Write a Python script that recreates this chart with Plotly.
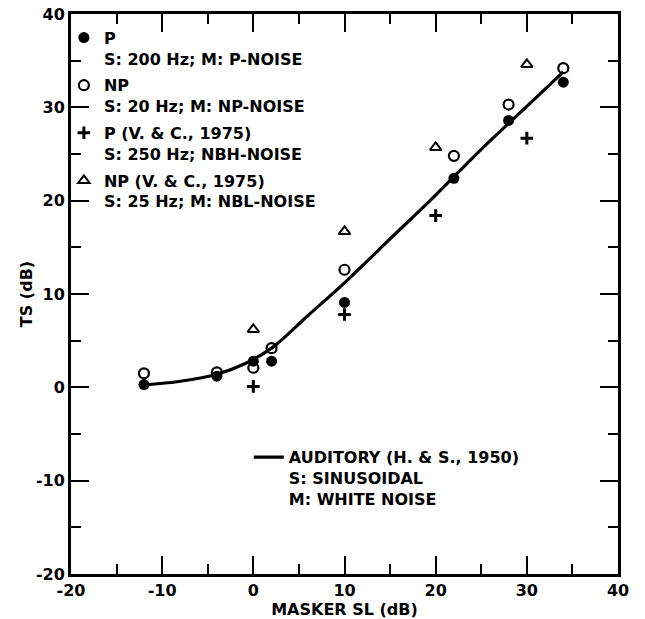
import plotly.graph_objects as go

# Masker sensation level (dB) and threshold shift (dB) for each condition
p_sl = [-12, -4, 0, 2, 10, 22, 28, 34]
p_ts = [0.3, 1.2, 2.8, 2.8, 9.1, 22.4, 28.6, 32.7]

np_sl = [-12, -4, 0, 2, 10, 22, 28, 34]
np_ts = [1.5, 1.6, 2.1, 4.2, 12.6, 24.8, 30.3, 34.2]

p_vc_sl = [0, 10, 20, 30]
p_vc_ts = [0.1, 7.8, 18.4, 26.7]

np_vc_sl = [0, 10, 20, 30]
np_vc_ts = [6.2, 16.7, 25.7, 34.6]

# Auditory masking curve (Hawkins & Stevens, 1950)
aud_sl = [-12, -8, -4, -1, 2, 6, 10, 15, 20, 25, 30, 34]
aud_ts = [0.25, 0.65, 1.4, 2.5, 4.2, 7.7, 11.2, 15.9, 20.6, 25.5, 30.1, 33.8]

# Axis ticks (shared by both axes)
tick_vals = [-20, -10, 0, 10, 20, 30, 40]
tick_text = ["-20", "-10", "0", "10", "20", "30", "40"]

FONT = "DejaVu Sans"
INK = "black"

fig = go.Figure()

fig.add_trace(go.Scatter(
    x=aud_sl, y=aud_ts, mode="lines",
    line=dict(color=INK, width=3.2, shape="spline", smoothing=1.0),
    name="AUDITORY (H. & S., 1950)<br>S: SINUSOIDAL<br>M: WHITE NOISE",
    legend="legend2",
))

fig.add_trace(go.Scatter(
    x=np_sl, y=np_ts, mode="markers",
    marker=dict(symbol="circle-open", size=10, color=INK, line=dict(width=2.2)),
    name="NP<br>S: 20 Hz; M: NP-NOISE", legendrank=2, legendgroup="b",
))
fig.add_trace(go.Scatter(
    x=p_sl, y=p_ts, mode="markers",
    marker=dict(symbol="circle", size=11, color=INK),
    name="P<br>S: 200 Hz; M: P-NOISE", legendrank=1, legendgroup="a",
))
fig.add_trace(go.Scatter(
    x=p_vc_sl, y=p_vc_ts, mode="markers",
    marker=dict(symbol="cross-thin", size=9, color=INK, line=dict(width=3, color=INK)),
    name="P (V. & C., 1975)<br>S: 250 Hz; NBH-NOISE", legendrank=3, legendgroup="c",
))
fig.add_trace(go.Scatter(
    x=np_vc_sl, y=np_vc_ts, mode="markers",
    marker=dict(symbol="triangle-up-open", size=10, color=INK, line=dict(width=2)),
    name="NP (V. & C., 1975)<br>S: 25 Hz; M: NBL-NOISE", legendrank=4, legendgroup="d",
))

axis_common = dict(
    range=[-20, 40], tickmode="array", tickvals=tick_vals, ticktext=tick_text,
    ticks="inside", ticklen=18, tickwidth=2, tickcolor=INK,
    minor=dict(dtick=5, tick0=0, ticks="inside", ticklen=10, tickwidth=2, tickcolor=INK),
    showline=True, linewidth=3, linecolor=INK, mirror="allticks",
    showgrid=False, zeroline=False, automargin=False,
    tickfont=dict(family=FONT, size=16, color=INK, weight="bold"),
)

fig.update_layout(
    width=645, height=619,
    margin=dict(l=71, r=27, t=14, b=45),
    paper_bgcolor="white", plot_bgcolor="white",
    xaxis=dict(axis_common, title=dict(text="MASKER SL (dB)", standoff=4,
               font=dict(family=FONT, size=16, color=INK, weight="bold"))),
    yaxis=dict(axis_common, title=dict(text="TS (dB)", standoff=0,
               font=dict(family=FONT, size=16, color=INK, weight="bold"))),
    legend=dict(
        x=-0.013, y=0.988, xanchor="left", yanchor="top", valign="top",
        traceorder="grouped", tracegroupgap=3, itemwidth=30,
        bgcolor="rgba(0,0,0,0)", borderwidth=0,
        font=dict(family=FONT, size=16, color=INK, weight="bold"),
    ),
    legend2=dict(
        x=0.325, y=0.239, xanchor="left", yanchor="top", valign="top",
        itemwidth=30, bgcolor="rgba(0,0,0,0)", borderwidth=0,
        font=dict(family=FONT, size=16, color=INK, weight="bold"),
    ),
    showlegend=True,
)

fig.write_html("out.html")
